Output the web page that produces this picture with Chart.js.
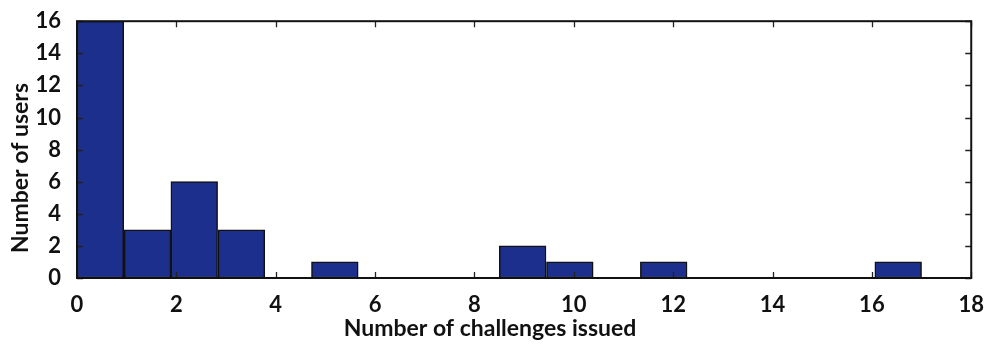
<!DOCTYPE html>
<html>
<head>
<meta charset="utf-8">
<script src="https://cdn.jsdelivr.net/npm/chart.js@4.4.0/dist/chart.umd.min.js"></script>
<style>
  html, body { margin: 0; padding: 0; background: #fff; }
  #histo { display: block; }
</style>
</head>
<body>
<canvas id="histo" width="990" height="345"></canvas>
<script>
// histogram bins: centre of each bin and how many users fall in it
const binCenters = [0.47, 1.42, 2.36, 3.31, 4.25, 5.19, 6.14, 7.08, 8.03,
                    8.97, 9.92, 10.86, 11.81, 12.75, 13.69, 14.64, 15.58, 16.53];
const userCounts = [16, 3, 6, 3, 0, 1, 0, 0, 0,
                    2, 1, 0, 1, 0, 0, 0, 0, 1];
const xTicks = [0, 2, 4, 6, 8, 10, 12, 14, 16, 18];
const yTicks = [0, 2, 4, 6, 8, 10, 12, 14, 16];

const FONT = 'Lato, "Open Sans", sans-serif';

// box around the axes plus the little inward tick marks on every side
const frameTicks = {
  id: 'frameTicks',
  afterDraw(chart) {
    const { ctx, chartArea: a, scales } = chart;
    ctx.save();
    ctx.strokeStyle = '#222';
    ctx.lineWidth = 1.3;
    xTicks.forEach(v => {
      const px = Math.round(scales.x.getPixelForValue(v)) + 0.5;
      ctx.beginPath();
      ctx.moveTo(px, a.bottom); ctx.lineTo(px, a.bottom - 6);
      ctx.moveTo(px, a.top); ctx.lineTo(px, a.top + 6);
      ctx.stroke();
    });
    yTicks.forEach(v => {
      const py = Math.round(scales.y.getPixelForValue(v)) + 0.5;
      ctx.beginPath();
      ctx.moveTo(a.left, py); ctx.lineTo(a.left + 6, py);
      ctx.moveTo(a.right, py); ctx.lineTo(a.right - 6, py);
      ctx.stroke();
    });
    ctx.lineWidth = 2;
    ctx.strokeStyle = '#111';
    ctx.strokeRect(a.left, a.top, a.right - a.left, a.bottom - a.top);

    // axis titles
    ctx.fillStyle = '#111';
    ctx.font = 'bold 23px ' + FONT;
    ctx.textAlign = 'center';
    ctx.textBaseline = 'alphabetic';
    ctx.fillText('Number of challenges issued', 490, 336);
    ctx.translate(28, 168);
    ctx.rotate(-Math.PI / 2);
    ctx.fillText('Number of users', 0, 0);
    ctx.restore();
  }
};

new Chart(document.getElementById('histo'), {
  type: 'bar',
  data: {
    datasets: [{
      data: binCenters.map((c, i) => ({ x: c, y: userCounts[i] })),
      backgroundColor: '#1d2f8c',
      borderColor: '#111',
      borderWidth: 1.5,
      borderSkipped: false,
      barPercentage: 1,
      categoryPercentage: 1
    }]
  },
  options: {
    responsive: false,
    animation: false,
    layout: { padding: { top: 17, right: 14, left: 0, bottom: 0 } },
    plugins: {
      legend: { display: false },
      tooltip: { enabled: false }
    },
    scales: {
      x: {
        type: 'linear',
        min: 0,
        max: 18,
        offset: false,
        grid: { display: false },
        border: { display: false },
        afterFit: s => { s.height = 67; },
        afterBuildTicks: s => { s.ticks = xTicks.map(v => ({ value: v })); },
        ticks: {
          color: '#111',
          padding: 6,
          maxRotation: 0,
          font: { family: FONT, size: 22, weight: 'bold' }
        }
      },
      y: {
        min: 0,
        max: 16,
        grid: { display: false },
        border: { display: false },
        afterFit: s => { s.width = 77; },
        afterBuildTicks: s => { s.ticks = yTicks.map(v => ({ value: v })); },
        ticks: {
          color: '#111',
          padding: 8,
          font: { family: FONT, size: 22, weight: 'bold' }
        }
      }
    }
  },
  plugins: [frameTicks]
});
</script>
</body>
</html>
